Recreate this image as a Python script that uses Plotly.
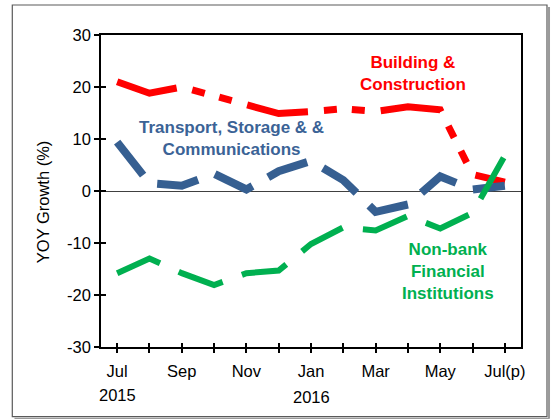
import plotly.graph_objects as go

# ---- data ----
months = ["Jul", "Aug", "Sep", "Oct", "Nov", "Dec", "Jan", "Feb", "Mar", "Apr", "May", "Jun", "Jul(p)"]
tick_labels = ["Jul", "", "Sep", "", "Nov", "", "Jan", "", "Mar", "", "May", "", "Jul(p)"]
building = [21.0, 18.8, 20.0, 18.2, 16.6, 14.9, 15.3, 15.8, 15.3, 16.2, 15.6, 3.2, 1.7]
transport = [9.4, 1.5, 1.0, 3.3, 0.3, 3.8, 5.8, 2.1, -4.0, -2.6, 2.8, 0.3, 1.0]
nonbank = [-15.8, -13.0, -15.8, -18.1, -15.8, -15.3, -10.2, -7.0, -7.6, -4.8, -7.2, -4.2, 6.8]
years = ["2015", "2016"]
year_months = ["Jul", "Jan"]
y_ticks = [-30, -20, -10, 0, 10, 20, 30]
y_tick_labels = ["-30", "-20", "-10", "0", "10", "20", "30"]

FONT = "Liberation Sans, Arial, sans-serif"
RED = "#FF0000"
BLUE = "#365F91"
GREEN = "#00B050"

fig = go.Figure()
fig.add_trace(go.Scatter(x=months, y=building, mode="lines", name="Building & Construction",
                         line=dict(color=RED, width=7, dash="62px,16px,13px,15px,13px,16px")))
fig.add_trace(go.Scatter(x=months, y=transport, mode="lines", name="Transport, Storage & Communications",
                         line=dict(color=BLUE, width=8, dash="42px,18px")))
fig.add_trace(go.Scatter(x=months, y=nonbank, mode="lines", name="Non-bank Financial Institutions",
                         line=dict(color=GREEN, width=6, dash="47px,20.5px")))
# helper trace for the inner half of the crossing tick marks
fig.add_trace(go.Scatter(x=months, y=[None] * len(months), xaxis="x2", yaxis="y2",
                         mode="lines", showlegend=False, hoverinfo="skip"))

fig.update_layout(
    width=558, height=419,
    margin=dict(l=101, r=37, t=35, b=72),
    paper_bgcolor="white", plot_bgcolor="white",
    showlegend=False,
    font=dict(family=FONT, size=16.5, color="black"),
    xaxis=dict(type="category", categoryorder="array", categoryarray=months,
               range=[-0.5, 12.5], tickmode="array", tickvals=months, ticktext=tick_labels,
               ticks="outside", ticklen=4, tickwidth=1.5, tickcolor="black",
               showline=True, linecolor="black", linewidth=1.5, mirror=True,
               showgrid=False, zeroline=False, ticklabelstandoff=4),
    yaxis=dict(range=[-30, 30], tickmode="array", tickvals=y_ticks, ticktext=y_tick_labels,
               ticks="outside", ticklen=5, tickwidth=1.5, tickcolor="black",
               showline=True, linecolor="black", linewidth=1.5, mirror=True,
               showgrid=False, zeroline=True, zerolinecolor="#404040", zerolinewidth=1.2),
    xaxis2=dict(type="category", categoryorder="array", categoryarray=months,
                overlaying="x", anchor="y2", side="bottom", range=[-0.5, 12.5],
                tickmode="array", tickvals=months, ticks="inside", ticklen=4, tickwidth=1.5,
                tickcolor="black", showticklabels=False, showline=False, showgrid=False, zeroline=False),
    yaxis2=dict(overlaying="y", anchor="x2", side="left", range=[-30, 30],
                tickmode="array", tickvals=y_ticks, ticks="inside", ticklen=5, tickwidth=1.5,
                tickcolor="black", showticklabels=False, showline=False, showgrid=False, zeroline=False),
)

# axis title (rotated)
fig.add_annotation(text="YOY Growth (%)", textangle=-90, xref="paper", yref="y",
                   x=-0.1374, y=-2.1, xanchor="center", yanchor="middle", showarrow=False,
                   font=dict(size=16.5, family=FONT, color="black"))

# year labels
for yr, m, sh in zip(years, year_months, [0, 2]):
    fig.add_annotation(text=yr, xref="x", yref="paper", x=m, y=-0.1538, yshift=-sh,
                       xanchor="center", yanchor="middle", showarrow=False,
                       font=dict(size=16.5, family=FONT, color="black"))

# series labels
fig.add_annotation(text="<b>Building &amp;<br>Construction</b>", xref="x", yref="y", x=9.16, y=22.6,
                   xanchor="center", yanchor="middle", showarrow=False,
                   font=dict(size=17, family=FONT, color=RED))
fig.add_annotation(text="<b>Transport, Storage &amp; &amp;<br>Communications</b>", xref="x", yref="y",
                   x=3.54, y=10.1, xanchor="center", yanchor="middle", showarrow=False,
                   font=dict(size=17, family=FONT, color="#3B6396"))
fig.add_annotation(text="<b>Non-bank<br>Financial<br>Institutions</b>", xref="x", yref="y",
                   x=10.24, y=-15.45, xanchor="center", yanchor="middle", showarrow=False,
                   font=dict(size=17, family=FONT, color=GREEN))

# outer chart frame with shadow
fig.add_shape(type="rect", xref="paper", yref="paper", x0=-0.2112, x1=1.0619, y0=-0.2234, y1=1.0962,
              line=dict(color="#5a5a5a", width=1.2), layer="below")
fig.add_shape(type="line", xref="paper", yref="paper", x0=-0.206, x1=1.0667, y0=-0.2298, y1=-0.2298,
              line=dict(color="#9a9a9a", width=2))
fig.add_shape(type="line", xref="paper", yref="paper", x0=1.0667, x1=1.0667, y0=-0.2298, y1=1.09,
              line=dict(color="#9a9a9a", width=2))

fig.write_html("out.html", config={"displayModeBar": False},
               post_script="document.body.style.margin='0';")
